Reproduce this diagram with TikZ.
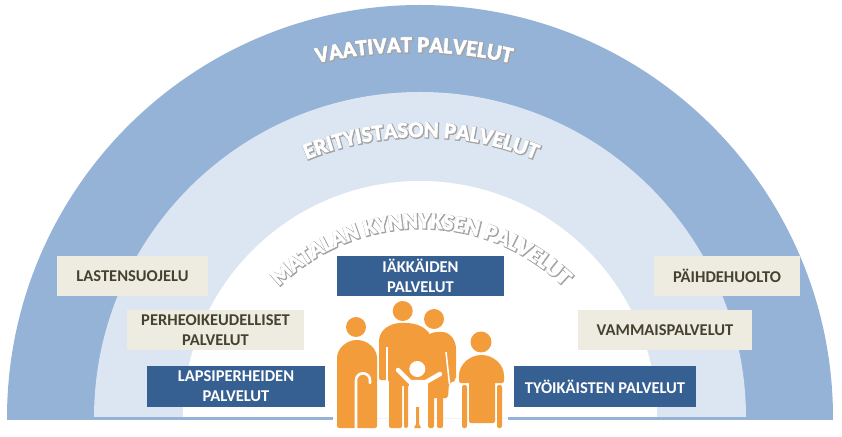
\documentclass[tikz,border=0pt]{standalone}
\usepackage{fontspec}
\setmainfont{Carlito}
\usepackage{xcolor}
\usetikzlibrary{positioning, decorations.text}
\definecolor{bandouter}{HTML}{95B3D7}
\definecolor{bandmiddle}{HTML}{DCE6F2}
\definecolor{navybox}{HTML}{376092}
\definecolor{sandbox}{HTML}{EEECE1}
\definecolor{sandtext}{HTML}{45432F}
\definecolor{figorange}{HTML}{F39C3C}
\definecolor{glowgrey}{HTML}{A3A3A3}
\font\ringglow="Carlito/B:embolden=9" at 22.5pt
\font\ringface="Carlito/B:embolden=2.5" at 22.5pt

% grey glow, then the white face on top: centre x, centre y, radius, half angle, text
\newcommand{\bandlabel}[5]{%
  \path[shift={(#1+0.7,#2-0.7)}, decorate, decoration={text along path, text align=center,
      text={|\ringglow\color{glowgrey}|#5}}]
      (90+#4:#3) arc (90+#4:90-#4:#3);
  \path[shift={(#1,#2)}, decorate, decoration={text along path, text align=center,
      text={|\ringface\color{white}|#5}}]
      (90+#4:#3) arc (90+#4:90-#4:#3);
  }

\begin{document}
\begin{tikzpicture}[
        x=1pt, y=1pt,
        box/.style={align=center, minimum height=40pt, inner sep=0pt, font=\fontsize{16.5}{20}\selectfont\bfseries},
        navy/.style={box, fill=navybox, text=white},
        sand/.style={box, fill=sandbox, text=sandtext},
        figure/.style={fill=figorange, rounded corners=2pt},
        gap/.style={draw=white, line width=2.6pt},
        childpart/.style={draw=white, line width=4.5pt, line cap=round, line join=round}
    ]
    \useasboundingbox (0,0) rectangle (842,436);
    \fill[white] (0,0) rectangle (842,436);
    % bands
    \fill[bandouter] (7,18) arc (180:0:413) -- cycle;
    \fill[bandmiddle] (94,18) arc (180:0:326) -- cycle;
    \fill[white] (183,18) arc (180:0:237) -- cycle;
    \fill[bandouter] (7,16) rectangle (333,19);
    \fill[bandouter] (508,16) rectangle (833,19);

    % curved labels
    \bandlabel{414}{-44}{428}{20}{VAATIVAT PALVELUT}
    \bandlabel{421}{-3}{302}{30}{ERITYISTASON PALVELUT}
    \bandlabel{421}{5}{203}{55}{MATALAN KYNNYKSEN PALVELUT}

    % service boxes
    \node[sand, minimum width=151pt] (lastensuojelu) at (132.5,160) {LASTENSUOJELU};
    \node[sand, minimum width=177pt] (perhe) at (215.5,105.5) {PERHEOIKEUDELLISET\\PALVELUT};
    \node[navy, minimum width=178pt] (lapsi) at (236,49.5) {LAPSIPERHEIDEN\\PALVELUT};
    \node[navy, minimum width=167pt] (iakkaat) at (420.5,160) {IÄKKÄIDEN\\PALVELUT};
    \node[navy, minimum width=182pt] (tyoikaiset) at (605,49.5) {TYÖIKÄISTEN PALVELUT};
    \node[sand, minimum width=174pt] (vammais) at (665,105.5) {VAMMAISPALVELUT};
    \node[sand, minimum width=146pt] (paihde) at (727,160) {PÄIHDEHUOLTO};

    % people
    \fill[figorange] (356,109) circle (10);
    \fill[figure] (337,8) -- (337,76) arc (180:0:20) -- (377,8) -- cycle;
    \draw[gap, line cap=round] (356,6) -- (356,55.7) arc (180:0:7) -- (370,53);

    \fill[figorange] (402.7,125) circle (10);
    \fill[figure] (379,56) -- (379,93) .. controls (379,106) and (390,113) .. (403,113)
        .. controls (418,113) and (425,108) .. (430,102) -- (430,50) -- (389,50) -- (389,56) -- cycle;
    \fill[figure] (389,8) rectangle (402,56);
    \fill[figure] (404,8) rectangle (408,56);
    \draw[gap, line width=2pt] (387.3,89) -- (387.3,54);

    \fill[figorange] (434,117) circle (10);
    \fill[figure] (428,38) -- (448,38) -- (449,53) -- (452,53) -- (456,57) -- (456,85)
        .. controls (456,96) and (450,104) .. (440,104)
        .. controls (433,104) and (428,102) .. (420,96) -- (420,60) -- (428,50) -- cycle;
    \fill[figure] (428,8) rectangle (434,40);
    \fill[figure] (437,8) rectangle (443,40);
    \draw[gap, line width=1.6pt] (446,84) -- (449.5,52);

    \fill[figorange] (481,94) circle (10.5);
    \fill[figure] (459,53) -- (459,58.5) arc (180:0:22.5) -- (504,53) -- cycle;
    \fill[figure] (469,13) rectangle (495,56);
    \fill[figure] (462,8) rectangle (467,51);
    \fill[figure] (497,8) rectangle (502,51);

    % child
    \fill[white] (417.3,67) circle (8);
    \fill[white] (409,8) rectangle (427.5,56);
    \draw[childpart] (398,66) -- (410,54) -- (426,54) -- (440,62);
    \fill[figorange] (416,29) -- (419,29) -- (419,12) -- (421,8) -- (414,8) -- (416,12) -- cycle;
\end{tikzpicture}
\end{document}
